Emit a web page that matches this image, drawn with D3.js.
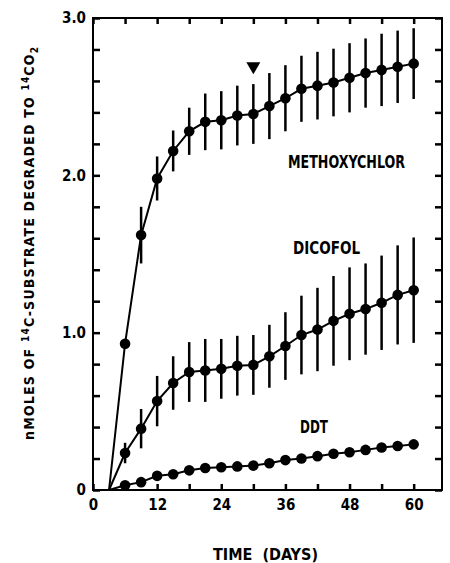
<!DOCTYPE html>
<html>
<head>
<meta charset="utf-8">
<title>14C-substrate degraded to 14CO2</title>
<script src="https://d3js.org/d3.v7.min.js"></script>
<style type="text/css">
body { margin: 0; background: #fff; }
svg text {
	font-family: "Liberation Sans Narrow", "DejaVu Sans Condensed", "Liberation Sans", sans-serif;
	font-weight: bold;
	fill: #000;
}
</style>
</head>
<body>
<div id="chart"></div>
<script>
// sampling days (every 3 days), curves start from 0 at day 3
var startDay = 3
var days = [6, 9, 12, 15, 18, 21, 24, 27, 30, 33, 36, 39, 42, 45, 48, 51, 54, 57, 60]

var methoxychlor = [0.93, 1.62, 1.98, 2.155, 2.28, 2.34, 2.35, 2.38, 2.39, 2.44, 2.49, 2.55, 2.57, 2.59, 2.62, 2.65, 2.67, 2.69, 2.71]
var methoxychlorErr = [0.03, 0.18, 0.14, 0.13, 0.15, 0.18, 0.185, 0.19, 0.19, 0.21, 0.21, 0.21, 0.215, 0.215, 0.22, 0.22, 0.23, 0.23, 0.225]

var dicofol = [0.235, 0.39, 0.565, 0.68, 0.75, 0.76, 0.77, 0.79, 0.795, 0.85, 0.915, 0.985, 1.02, 1.075, 1.12, 1.15, 1.19, 1.24, 1.27]
var dicofolErr = [0.065, 0.125, 0.16, 0.17, 0.19, 0.2, 0.19, 0.19, 0.19, 0.2, 0.215, 0.25, 0.265, 0.285, 0.295, 0.29, 0.3, 0.315, 0.335]

var ddt = [0.03, 0.05, 0.09, 0.10, 0.125, 0.14, 0.145, 0.15, 0.155, 0.17, 0.19, 0.20, 0.215, 0.23, 0.24, 0.255, 0.27, 0.28, 0.29]

var xTicks = [0, 6, 12, 18, 24, 30, 36, 42, 48, 54, 60]
var xLabels = [0, 12, 24, 36, 48, 60]
var yTicks = [0, 0.2, 0.4, 0.6, 0.8, 1.0, 1.2, 1.4, 1.6, 1.8, 2.0, 2.2, 2.4, 2.6, 2.8, 3.0]
var yLabels = {0: "0", 1: "1.0", 2: "2.0", 3: "3.0"}

// marker of the arrow above day 30
var arrowDay = 30, arrowValue = 2.68

var W = 450, H = 563
var frame = {left: 93, right: 442, top: 18, bottom: 490}

var svg = d3.select("#chart").append("svg")
	.attr("width", W)
	.attr("height", H)

var x = d3.scaleLinear().domain([0, 65.3]).range([frame.left, frame.right])
var y = d3.scaleLinear().domain([0, 3]).range([frame.bottom, frame.top])

// axes, all ticks point inward
svg.append("g")
	.attr("transform", "translate(0," + frame.bottom + ")")
	.call(d3.axisBottom(x).tickValues(xTicks).tickSize(-6).tickPadding(9)
		.tickFormat(function(d){ return xLabels.indexOf(d) >= 0 ? d : ""; }))
svg.append("g")
	.attr("transform", "translate(0," + frame.top + ")")
	.call(d3.axisTop(x).tickValues(xTicks).tickSize(-6).tickFormat(""))
svg.append("g")
	.attr("transform", "translate(" + frame.left + ",0)")
	.call(d3.axisLeft(y).tickValues(yTicks).tickSize(-7).tickPadding(7)
		.tickFormat(function(d){ var k = Math.round(d * 10) / 10; return k % 1 === 0 ? yLabels[k] : ""; }))
svg.append("g")
	.attr("transform", "translate(" + frame.right + ",0)")
	.call(d3.axisRight(y).tickValues(yTicks).tickSize(-7).tickFormat(""))

svg.selectAll(".domain").remove()
svg.selectAll(".tick line").attr("stroke", "#000").attr("stroke-width", 2.5)
svg.selectAll(".tick text").style("font-size", "15px")

svg.append("rect")
	.attr("x", frame.left).attr("y", frame.top)
	.attr("width", frame.right - frame.left).attr("height", frame.bottom - frame.top)
	.attr("fill", "none").attr("stroke", "#000").attr("stroke-width", 2)

var line = d3.line()
	.x(function(d){ return x(d[0]); })
	.y(function(d){ return y(d[1]); })

function drawSeries(vals, errs) {
	var pts = [[startDay, 0]].concat(days.map(function(d, i){ return [d, vals[i]]; }))
	svg.append("path")
		.datum(pts)
		.attr("d", line)
		.attr("fill", "none")
		.attr("stroke", "#000")
		.attr("stroke-width", 2)
	if (errs) {
		svg.append("g").selectAll("line")
			.data(days)
			.enter().append("line")
			.attr("x1", function(d){ return x(d); })
			.attr("x2", function(d){ return x(d); })
			.attr("y1", function(d, i){ return y(vals[i] + errs[i]); })
			.attr("y2", function(d, i){ return y(vals[i] - errs[i]); })
			.attr("stroke", "#000")
			.attr("stroke-width", 2.5)
	}
	svg.append("g").selectAll("circle")
		.data(days)
		.enter().append("circle")
		.attr("cx", function(d){ return x(d); })
		.attr("cy", function(d, i){ return y(vals[i]); })
		.attr("r", 5.3)
		.attr("fill", "#000")
}

drawSeries(methoxychlor, methoxychlorErr)
drawSeries(dicofol, dicofolErr)
drawSeries(ddt, null)

// down-pointing triangle
var ax = x(arrowDay), ay = y(arrowValue)
svg.append("path")
	.attr("d", "M" + (ax - 7) + "," + (ay - 6) + "L" + (ax + 7) + "," + (ay - 6) + "L" + ax + "," + (ay + 6) + "Z")
	.attr("fill", "#000")

// series names
function label(txt, x0, yb, len) {
	svg.append("text")
		.attr("x", x0).attr("y", yb)
		.attr("textLength", len).attr("lengthAdjust", "spacingAndGlyphs")
		.style("font-size", "18px")
		.text(txt)
}
label("METHOXYCHLOR", 288, 168, 117)
label("DICOFOL", 293, 254, 67)
label("DDT", 300, 433, 28)

// x axis title
svg.append("text")
	.attr("x", 213).attr("y", 560)
	.attr("textLength", 105).attr("lengthAdjust", "spacingAndGlyphs")
	.style("font-size", "16px")
	.attr("xml:space", "preserve")
	.text("TIME  (DAYS)")

// y axis title
var yt = svg.append("text")
	.attr("transform", "translate(34,440)rotate(-90)")
	.attr("textLength", 393).attr("lengthAdjust", "spacing")
	.style("font-size", "14px")
yt.append("tspan").text("nMOLES OF ")
yt.append("tspan").attr("dy", -5).style("font-size", "10px").text("14")
yt.append("tspan").attr("dy", 5).text("C-SUBSTRATE DEGRADED TO ")
yt.append("tspan").attr("dy", -5).style("font-size", "10px").text("14")
yt.append("tspan").attr("dy", 5).text("CO")
yt.append("tspan").attr("dy", 4).style("font-size", "10px").text("2")
</script>
</body>
</html>
